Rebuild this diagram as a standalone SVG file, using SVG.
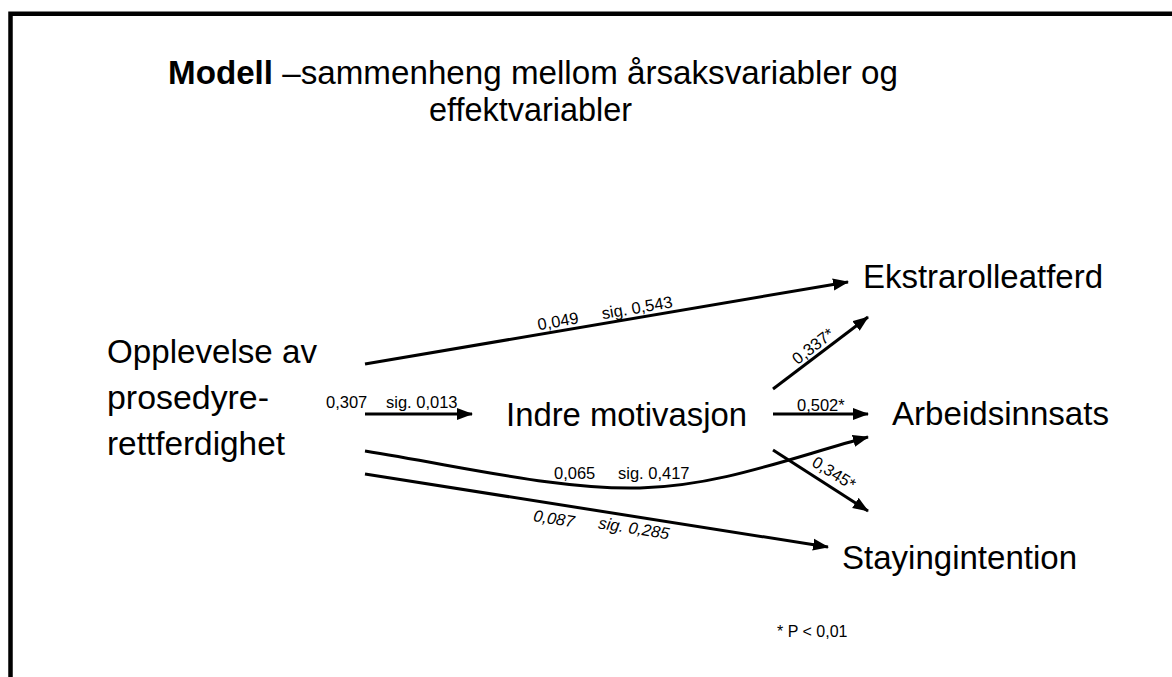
<svg xmlns="http://www.w3.org/2000/svg" width="1172" height="677" viewBox="0 0 1172 677">
<style>
.t{font-family:"Liberation Sans",Arial,Helvetica,sans-serif;fill:#000}
.node{font-size:34px}
.title{font-size:33px}
.lbl{font-size:16.5px}
.it{font-style:italic}
.edge{stroke:#000;stroke-width:3;fill:none;marker-end:url(#ah)}
</style>
<defs>
<marker id="ah" markerUnits="userSpaceOnUse" markerWidth="17" markerHeight="13" viewBox="0 0 17 13" refX="15" refY="6.5" orient="auto">
<path d="M0,0.5 L16,6.5 L0,12.5 z" fill="#000"/>
</marker>
</defs>
<rect width="1172" height="677" fill="#fff"/>
<path d="M10.5,690 V13.7 H1185" fill="none" stroke="#000" stroke-width="4.5"/>
<g id="title">
<text class="t title" x="168" y="84" textLength="730" lengthAdjust="spacingAndGlyphs"><tspan font-weight="bold">Modell</tspan> –sammenheng mellom årsaksvariabler og</text>
<text class="t title" x="429" y="121" textLength="203" lengthAdjust="spacingAndGlyphs">effektvariabler</text>
</g>
<g id="connectors">
<path class="edge" d="M365,364 L848,282"/>
<path class="edge" d="M365,414 L472,414"/>
<path class="edge" d="M773,389 L868,317"/>
<path class="edge" d="M773,414 L868,414"/>
<path class="edge" d="M773,450 L868,511"/>
<path class="edge" d="M365,451 C470,468 560,490 640,488 C720,486 790,458 868,437"/>
<path class="edge" d="M365,474 L828,547"/>
<g id="labels">
<g transform="translate(558,321) rotate(-9.6)"><text class="t lbl" x="0" y="5.8" text-anchor="middle">0,049</text></g>
<g transform="translate(637,307.5) rotate(-9.6)"><text class="t lbl" x="0" y="5.8" text-anchor="middle">sig. 0,543</text></g>
<text class="t lbl" x="326" y="408">0,307</text>
<text class="t lbl" x="386" y="408">sig. 0,013</text>
<g transform="translate(813,346) rotate(-37.5)"><text class="t lbl" x="0" y="5.8" text-anchor="middle">0,337*</text></g>
<text class="t lbl" x="797" y="411">0,502*</text>
<g transform="translate(834,473) rotate(32)"><text class="t lbl" x="0" y="5.8" text-anchor="middle">0,345*</text></g>
<text class="t lbl" x="554" y="479">0,065</text>
<text class="t lbl" x="618" y="479">sig. 0,417</text>
<g transform="translate(554,518.5) rotate(9)"><text class="t lbl it" x="0" y="5.8" text-anchor="middle">0,087</text></g>
<g transform="translate(634,528) rotate(9)"><text class="t lbl it" x="0" y="5.8" text-anchor="middle">sig. 0,285</text></g>
</g>
</g>
<g id="opplevelse">
<text class="t node" x="107" y="363" textLength="210" lengthAdjust="spacingAndGlyphs">Opplevelse av</text>
<text class="t node" x="107" y="409" textLength="162" lengthAdjust="spacingAndGlyphs">prosedyre-</text>
<text class="t node" x="107" y="455" textLength="178" lengthAdjust="spacingAndGlyphs">rettferdighet</text>
</g>
<g id="indre">
<text class="t node" x="506" y="426" textLength="241" lengthAdjust="spacingAndGlyphs">Indre motivasjon</text>
</g>
<g id="ekstrarolleatferd">
<text class="t node" x="863" y="288" textLength="240" lengthAdjust="spacingAndGlyphs">Ekstrarolleatferd</text>
</g>
<g id="arbeidsinnsats">
<text class="t node" x="892" y="425" textLength="217" lengthAdjust="spacingAndGlyphs">Arbeidsinnsats</text>
</g>
<g id="stayingintention">
<text class="t node" x="842" y="569" textLength="235" lengthAdjust="spacingAndGlyphs">Stayingintention</text>
</g>
<g id="footnote">
<text class="t" x="777" y="637" font-size="16">* P &lt; 0,01</text>
</g>
</svg>
